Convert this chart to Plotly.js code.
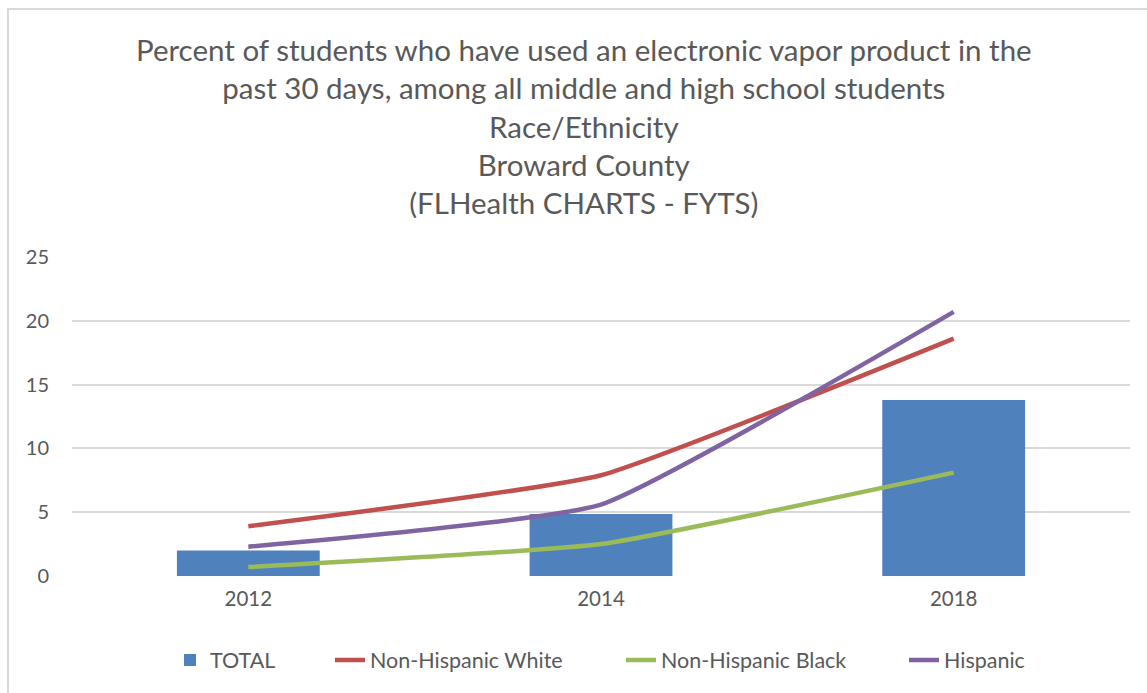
<!DOCTYPE html>
<html><head><meta charset="utf-8">
<script src="https://cdn.plot.ly/plotly-3.0.1.min.js"></script>
<style>
html,body{margin:0;padding:0;background:#fff;}
#frame{position:absolute;left:7px;top:8px;width:1160px;height:700px;border:2px solid #d9d9d9;box-sizing:border-box;}
#chart{position:absolute;left:0;top:0;width:1147px;height:693px;}
</style></head>
<body>
<div id="frame"></div>
<div id="chart"></div>
<script>
const years = ['2012', '2014', '2018'];
const total = [2.0, 4.85, 13.8];
const nhWhite = [3.9, 7.9, 18.6];
const nhBlack = [0.7, 2.5, 8.1];
const hispanic = [2.3, 5.6, 20.7];

const textColor = '#595959';
const fontFam = 'Lato, "Open Sans", sans-serif';
const W = 1147, H = 693;

const lineShape = {shape: 'spline', smoothing: 0.4, width: 4.5};

const data = [
  {type: 'bar', name: 'TOTAL', x: years, y: total, marker: {color: '#4F81BD'}, legend: 'legend'},
  {type: 'scatter', mode: 'lines', name: 'Non-Hispanic White', x: years, y: nhWhite,
   line: Object.assign({color: '#C0504D'}, lineShape), legend: 'legend2'},
  {type: 'scatter', mode: 'lines', name: 'Non-Hispanic Black', x: years, y: nhBlack,
   line: Object.assign({color: '#9BBB59'}, lineShape), legend: 'legend3'},
  {type: 'scatter', mode: 'lines', name: 'Hispanic', x: years, y: hispanic,
   line: Object.assign({color: '#8064A2'}, lineShape), legend: 'legend4'}
];

function leg(px) {
  return {orientation: 'h', x: px / W, xanchor: 'left', xref: 'container',
          y: 1 - 660 / H, yref: 'container', yanchor: 'middle',
          font: {size: 21.5, color: textColor}, bgcolor: 'rgba(0,0,0,0)'};
}

const layout = {
  width: W, height: H,
  paper_bgcolor: 'rgba(0,0,0,0)', plot_bgcolor: 'rgba(0,0,0,0)',
  margin: {l: 72, r: 17, t: 257, b: 117},
  font: {family: fontFam, color: textColor, size: 20},
  title: {
    text: 'Percent of students who have used an electronic vapor product in the<br>past 30 days, among all middle and high school students<br>Race/Ethnicity<br>Broward County<br>(FLHealth CHARTS - FYTS)',
    font: {family: fontFam, size: 29.5, color: textColor},
    xref: 'container', x: 0.509, xanchor: 'center',
    yref: 'container', y: 0.912, yanchor: 'middle'
  },
  bargap: 0.595,
  showlegend: true,
  legend: leg(211 - 41),
  legend2: leg(371 - 41),
  legend3: leg(662 - 41),
  legend4: leg(945 - 41),
  xaxis: {type: 'category', showgrid: false, zeroline: false, showline: false,
          ticks: '', tickfont: {size: 20.5, color: textColor}, ticklabelstandoff: 8},
  yaxis: {range: [0, 25], dtick: 5, showgrid: true, gridcolor: '#d9d9d9', gridwidth: 1.5,
          zeroline: false, showline: false, ticks: '', tickfont: {size: 20, color: textColor},
          ticklabelstandoff: 22}
};

Plotly.newPlot('chart', data, layout, {displayModeBar: false, responsive: false});
</script>
</body></html>
